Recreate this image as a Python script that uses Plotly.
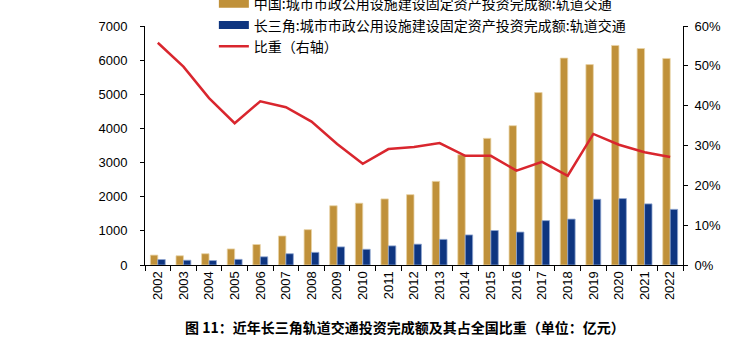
import plotly.graph_objects as go

years = [str(y) for y in range(2002, 2023)]
china = [290, 270, 330, 470, 600, 850, 1035, 1735, 1810, 1935, 2060, 2450,
         3230, 3710, 4080, 5050, 6060, 5870, 6430, 6340, 6050]
yrd = [160, 140, 130, 165, 240, 330, 370, 530, 460, 560, 610, 750,
       880, 1010, 965, 1300, 1345, 1925, 1945, 1790, 1630]
ratio = [55.8, 49.8, 41.9, 35.6, 41.1, 39.6, 36.0, 30.4, 25.4, 29.1, 29.6, 30.6,
         27.4, 27.4, 23.7, 25.9, 22.4, 32.9, 30.2, 28.3, 27.1]
ratio = [r / 100 for r in ratio]

name_cn = "中国:城市市政公用设施建设固定资产投资完成额:轨道交通"
name_yrd = "长三角:城市市政公用设施建设固定资产投资完成额:轨道交通"
name_ratio = "比重（右轴）"
title = "图 11：近年长三角轨道交通投资完成额及其占全国比重（单位：亿元）"

gold = "#C0913A"
blue = "#0E3580"
red = "#D9262E"
font_main = "Liberation Sans, Arial, Noto Sans CJK SC, sans-serif"

fig = go.Figure()
fig.add_trace(go.Bar(x=years, y=china, name=name_cn, showlegend=False,
                     marker=dict(color=gold, line=dict(color="#E8D3A6", width=0.8))))
fig.add_trace(go.Bar(x=years, y=yrd, name=name_yrd, showlegend=False,
                     marker=dict(color=blue, line=dict(color="#8FA6D0", width=0.8))))
fig.add_trace(go.Scatter(x=years, y=ratio, name=name_ratio, yaxis="y2", mode="lines",
                         showlegend=False, line=dict(color=red, width=2.5)))
# legend entries (wide swatches as in the reference)
fig.add_trace(go.Scatter(x=[None], y=[None], name=name_cn, mode="lines",
                         line=dict(color=gold, width=8)))
fig.add_trace(go.Scatter(x=[None], y=[None], name=name_yrd, mode="lines",
                         line=dict(color=blue, width=8)))
fig.add_trace(go.Scatter(x=[None], y=[None], name=name_ratio, mode="lines",
                         line=dict(color=red, width=2.5)))

fig.update_layout(
    width=747, height=338,
    margin=dict(l=145, r=64, t=26, b=73, autoexpand=False),
    paper_bgcolor="white", plot_bgcolor="white",
    font=dict(family=font_main, size=13, color="#000000"),
    barmode="group", bargap=0.42, bargroupgap=0,
    showlegend=True,
    legend=dict(x=0.128, y=1.158, xanchor="left", yanchor="top",
                bgcolor="rgba(0,0,0,0)", font=dict(size=14, color="#000000",
                family="Noto Sans CJK SC, sans-serif"),
                tracegroupgap=0, itemwidth=30),
    xaxis=dict(type="category", tickangle=-90, showline=True, linecolor="#000000",
               linewidth=1, ticks="outside", ticklen=5, tickcolor="#000000",
               showgrid=False, tickson="boundaries", tickfont=dict(size=13)),
    yaxis=dict(range=[0, 7000], dtick=1000, showline=True, linecolor="#000000",
               linewidth=1, ticks="outside", ticklen=4, tickcolor="#000000",
               showgrid=False, zeroline=False, tickfont=dict(size=13),
               ticklabelstandoff=10),
    yaxis2=dict(range=[0, 0.6], dtick=0.1, tickformat=".0%", overlaying="y",
                side="right", showline=True, linecolor="#000000", linewidth=1,
                ticks="outside", ticklen=4, tickcolor="#000000", showgrid=False,
                zeroline=False, tickfont=dict(size=13), ticklabelstandoff=4),
    annotations=[dict(text="<b>" + title + "</b>",
                      x=(405 - 145) / (747 - 145 - 64), xref="paper",
                      y=-(327 - 265) / (338 - 26 - 73), yref="paper",
                      yanchor="middle", showarrow=False,
                      font=dict(size=14, family="Noto Sans CJK SC, sans-serif"))],
)

fig.write_html("out.html")
